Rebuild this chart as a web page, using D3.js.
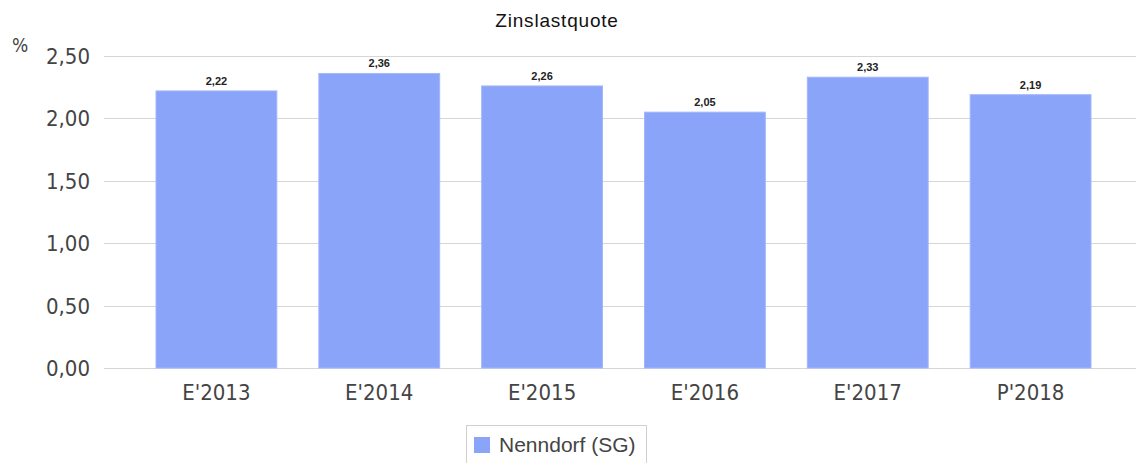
<!DOCTYPE html>
<html>
<head>
<meta charset="utf-8">
<script src="https://cdn.jsdelivr.net/npm/d3@7"></script>
<style>
  body { margin: 0; background: #fff; }
  svg { display: block; }
</style>
</head>
<body>
<div id="chart"></div>
<script>
// Chart data
const categories = ["E'2013", "E'2014", "E'2015", "E'2016", "E'2017", "P'2018"];
const values = [2.22, 2.36, 2.26, 2.05, 2.33, 2.19];
const yTicks = [0, 0.5, 1, 1.5, 2, 2.5];
const seriesName = "Nenndorf (SG)";
const chartTitle = "Zinslastquote";

const width = 1136, height = 463;
const barColor = "#8aa4fa";
const axisFont = "'DejaVu Sans Condensed', 'DejaVu Sans', sans-serif";
const labelFont = "'Liberation Sans', Arial, sans-serif";

const fmt = v => d3.format(".2f")(v).replace(".", ",");

const svg = d3.select("#chart")
    .append("svg")
    .attr("width", width)
    .attr("height", height);

const x = d3.scaleBand()
    .domain(categories)
    .range([135, 1112])
    .paddingInner(0.258)
    .paddingOuter(0.129);

const y = d3.scaleLinear()
    .domain([0, 2.5])
    .range([368, 56]);

// gridlines
svg.append("g")
    .selectAll("line")
    .data(yTicks)
    .enter().append("line")
    .attr("x1", 104)
    .attr("x2", width)
    .attr("y1", d => Math.round(y(d)) + 0.5)
    .attr("y2", d => Math.round(y(d)) + 0.5)
    .attr("stroke", "#d6d6d6")
    .attr("stroke-width", 1);

// y tick labels
svg.append("g")
    .selectAll("text")
    .data(yTicks)
    .enter().append("text")
    .attr("x", 90)
    .attr("y", d => y(d))
    .attr("dy", "0.36em")
    .attr("text-anchor", "end")
    .style("font-family", axisFont)
    .style("font-size", "22px")
    .style("fill", "#444")
    .text(d => fmt(d));

// unit
svg.append("text")
    .attr("x", 12)
    .attr("y", 52)
    .style("font-family", axisFont)
    .style("font-size", "19px")
    .style("fill", "#444")
    .text("%");

// bars
svg.append("g")
    .selectAll("rect")
    .data(values)
    .enter().append("rect")
    .attr("x", (d, i) => x(categories[i]))
    .attr("y", d => y(d))
    .attr("width", x.bandwidth())
    .attr("height", d => y(0) - y(d))
    .attr("fill", barColor)
    .attr("stroke", "#a3b6fb")
    .attr("stroke-width", 1);

// value labels
svg.append("g")
    .selectAll("text")
    .data(values)
    .enter().append("text")
    .attr("x", (d, i) => x(categories[i]) + x.bandwidth() / 2)
    .attr("y", d => y(d) - 6)
    .attr("text-anchor", "middle")
    .style("font-family", labelFont)
    .style("font-size", "11px")
    .style("font-weight", "bold")
    .style("fill", "#222")
    .text(d => fmt(d));

// x axis labels
svg.append("g")
    .selectAll("text")
    .data(categories)
    .enter().append("text")
    .attr("x", d => x(d) + x.bandwidth() / 2)
    .attr("y", 400)
    .attr("text-anchor", "middle")
    .style("font-family", axisFont)
    .style("font-size", "22px")
    .style("fill", "#444")
    .text(d => d);

// title
svg.append("text")
    .attr("x", 557)
    .attr("y", 27)
    .attr("text-anchor", "middle")
    .style("font-family", labelFont)
    .style("font-size", "19px")
    .style("letter-spacing", "0.8px")
    .style("fill", "#111")
    .text(chartTitle);

// legend
const legend = svg.append("g").attr("transform", "translate(466,425)");
legend.append("rect")
    .attr("x", 0.5)
    .attr("y", 0.5)
    .attr("width", 180)
    .attr("height", 40)
    .attr("fill", "#fff")
    .attr("stroke", "#d0d0d0");
legend.append("rect")
    .attr("x", 8)
    .attr("y", 12)
    .attr("width", 16)
    .attr("height", 16)
    .attr("fill", barColor);
legend.append("text")
    .attr("x", 33)
    .attr("y", 27)
    .style("font-family", labelFont)
    .style("font-size", "21px")
    .style("fill", "#444")
    .text(seriesName);
</script>
</body>
</html>
